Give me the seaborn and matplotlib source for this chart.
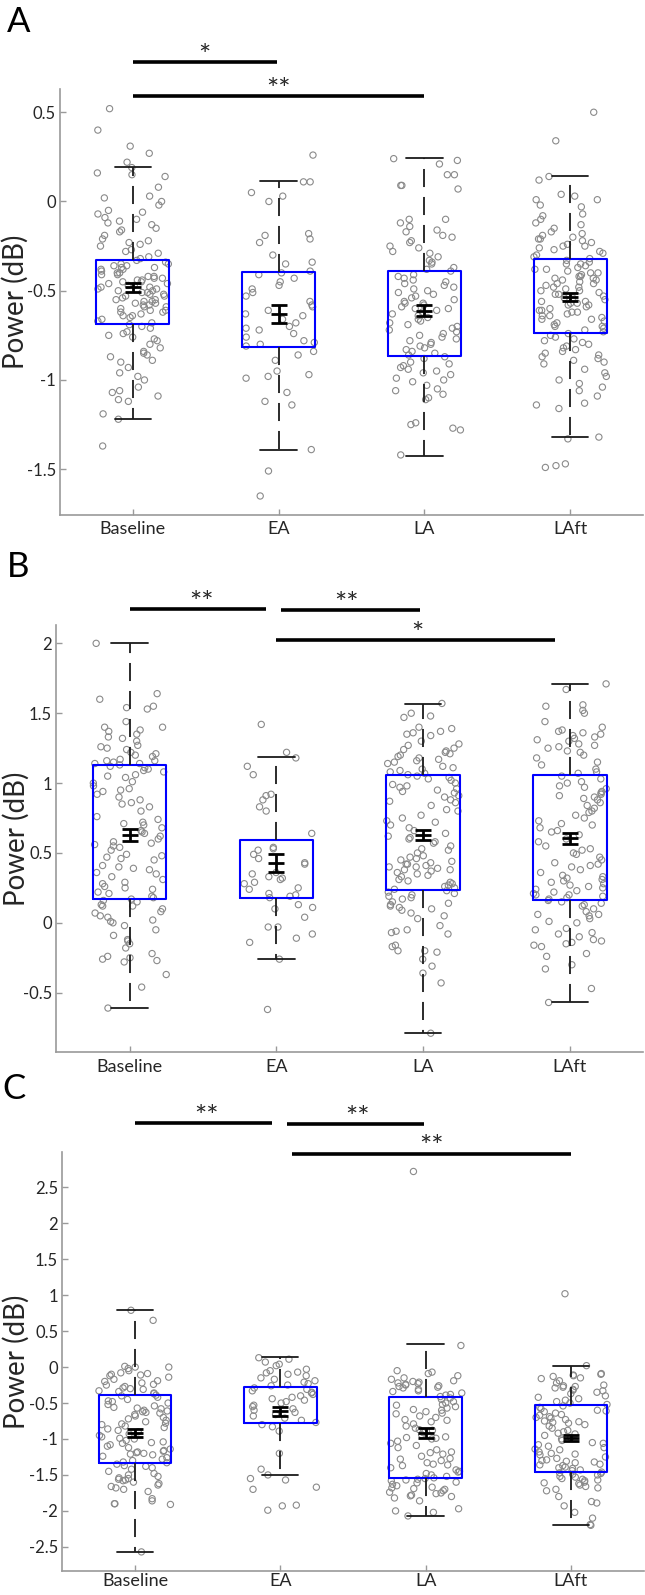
import numpy as np
import pandas as pd
import seaborn as sns
import matplotlib.pyplot as plt

conditions = ["Baseline", "EA", "LA", "LAft"]

# ---------------- panel A : individual values (dB) ----------------
A_baseline = [
    0.52, 0.40, 0.31, 0.27, 0.22, 0.19, 0.16, 0.15, 0.14, 0.08,
    0.03, 0.02, 0.00, -0.02, -0.05, -0.06, -0.07, -0.09, -0.11, -0.12,
    -0.13, -0.15, -0.16, -0.17, -0.19, -0.21, -0.22, -0.24, -0.25, -0.27,
    -0.28, -0.29, -0.31, -0.32, -0.33, -0.34, -0.35, -0.35, -0.36, -0.37,
    -0.38, -0.38, -0.39, -0.40, -0.41, -0.41, -0.42, -0.43, -0.43, -0.44,
    -0.45, -0.45, -0.46, -0.47, -0.48, -0.48, -0.49, -0.50, -0.50, -0.51,
    -0.52, -0.53, -0.53, -0.54, -0.55, -0.56, -0.56, -0.57, -0.58, -0.59,
    -0.60, -0.61, -0.61, -0.62, -0.63, -0.64, -0.65, -0.66, -0.67, -0.68,
    -0.69, -0.70, -0.71, -0.73, -0.74, -0.75, -0.77, -0.78, -0.80, -0.82,
    -0.84, -0.86, -0.87, -0.89, -0.90, -0.93, -0.96, -0.98, -1.00, -1.04,
    -1.06, -1.07, -1.09, -1.11, -1.12, -1.19, -1.22, -1.37,
    -0.37, -0.42, -0.46, -0.51, -0.55, -0.59, -0.44, -0.49, -0.57, -0.62,
    -0.36, -0.40, -0.47, -0.52, -0.58, -0.64, -0.76, -0.85, -0.23, -0.10,
]
A_EA = [
    0.26, 0.11, 0.11, 0.05, 0.03, 0.00, -0.18, -0.19, -0.21, -0.23,
    -0.30, -0.34, -0.35, -0.39, -0.40, -0.41, -0.43, -0.45, -0.47, -0.49,
    -0.51, -0.56, -0.58, -0.59, -0.61, -0.63, -0.66, -0.68, -0.70, -0.71,
    -0.72, -0.74, -0.76, -0.78, -0.79, -0.80, -0.81, -0.84, -0.86, -0.89,
    -0.95, -0.97, -0.98, -0.99, -1.07, -1.12, -1.14, -1.39, -1.51, -1.65,
    -0.53, -0.64,
]
A_LA = [
    0.24, 0.23, 0.21, 0.15, 0.15, 0.09, 0.09, 0.07, -0.10, -0.10,
    -0.12, -0.14, -0.16, -0.17, -0.19, -0.20, -0.22, -0.23, -0.25, -0.26,
    -0.28, -0.29, -0.31, -0.33, -0.34, -0.35, -0.37, -0.38,
    -0.39, -0.41, -0.42, -0.43, -0.45, -0.46, -0.47, -0.48, -0.50, -0.51,
    -0.52, -0.53, -0.55, -0.56, -0.57, -0.57, -0.58, -0.59, -0.60, -0.61,
    -0.62, -0.63, -0.64, -0.66, -0.67, -0.68, -0.69, -0.70, -0.71, -0.73,
    -0.74, -0.75, -0.77, -0.78, -0.79, -0.80, -0.81, -0.83, -0.84, -0.85,
    -0.86, -0.44, -0.49, -0.54, -0.60, -0.65, -0.72, -0.76, -0.82,
    -0.87, -0.88, -0.90, -0.91, -0.93, -0.94, -0.96, -0.97, -0.99, -1.01,
    -1.03, -1.05, -1.06, -1.08, -1.10, -1.11, -1.24, -1.25, -1.27, -1.28,
    -1.42, -0.92, -0.95, -1.00,
]
A_LAft = [
    0.50, 0.34, 0.14, 0.12, 0.04, 0.03, 0.01, 0.01, -0.02, -0.03,
    -0.07, -0.08, -0.10, -0.12, -0.13, -0.15, -0.17, -0.18, -0.19, -0.20,
    -0.21, -0.21, -0.22, -0.23, -0.24, -0.25, -0.25, -0.26, -0.27, -0.28,
    -0.29, -0.30, -0.31, -0.32,
    -0.33, -0.34, -0.35, -0.35, -0.36, -0.37, -0.38, -0.39, -0.40, -0.40,
    -0.41, -0.42, -0.43, -0.43, -0.44, -0.45, -0.46, -0.46, -0.47, -0.48,
    -0.49, -0.50, -0.50, -0.51, -0.52, -0.53, -0.54, -0.54, -0.55, -0.56,
    -0.57, -0.58, -0.58, -0.59, -0.60, -0.61, -0.62, -0.62, -0.63, -0.64,
    -0.65, -0.66, -0.67, -0.68, -0.69, -0.70, -0.71, -0.72, -0.73, -0.38,
    -0.44, -0.48, -0.52, -0.57, -0.61, -0.66, -0.42, -0.56, -0.64, -0.70,
    -0.74, -0.75, -0.76, -0.77, -0.78, -0.80, -0.81, -0.82, -0.83, -0.85,
    -0.86, -0.87, -0.89, -0.90, -0.91, -0.94, -0.96, -0.98, -1.00, -1.02,
    -1.04, -1.06, -1.09, -1.13, -1.14, -1.16, -1.32, -1.33, -1.47, -1.48,
    -1.49, -0.79, -0.84, -0.88,
]

# ---------------- panel B ----------------
B_baseline = [
    2.00, 1.64, 1.60, 1.55, 1.54, 1.53, 1.44, 1.40, 1.40, 1.38,
    1.37, 1.35, 1.33, 1.32, 1.30, 1.27, 1.26, 1.25, 1.24, 1.22,
    1.21, 1.20, 1.19, 1.17, 1.16, 1.15, 1.14, 1.13, 1.14, 1.16,
    1.12, 1.11, 1.10, 1.09, 1.08, 1.06, 1.04, 1.01, 1.00, 0.98,
    0.96, 0.95, 0.94, 0.90, 0.88, 0.86, 0.85, 0.83, 0.76, 0.74,
    0.72, 0.71, 0.70, 0.68, 0.66, 0.65, 0.64, 0.62, 0.60, 0.58,
    0.56, 0.55, 0.54, 0.52, 0.49, 0.48, 0.47, 0.46, 0.45, 0.41,
    0.40, 0.39, 0.38, 0.35, 0.33, 0.31, 0.29, 0.28, 0.26, 0.25,
    0.24, 0.22, 0.21, 0.19, 0.18, 1.05, 0.92, 0.80, 0.57, 0.36,
    0.17, 0.16, 0.15, 0.13, 0.12, 0.12, 0.10, 0.07, 0.05, 0.04,
    0.02, 0.01, 0.00, -0.02, -0.05, -0.09, -0.12, -0.13, -0.15, -0.18,
    -0.22, -0.24, -0.25, -0.26, -0.27, -0.28, -0.37, -0.46, -0.61, 0.08,
]
B_EA = [
    1.42, 1.22, 1.18, 1.12, 1.06, 0.92, 0.91, 0.88, 0.83, 0.80,
    0.64, 0.54, 0.53, 0.52, 0.49, 0.46, 0.43, 0.42, 0.35, 0.33,
    0.32, 0.31, 0.29, 0.28, 0.25, 0.24, 0.21, 0.20, 0.19, 0.18,
    0.13, 0.11, 0.10, 0.04, -0.03, -0.03, -0.08, -0.11, -0.14, -0.26,
    -0.62, 0.36,
]
B_LA = [
    1.57, 1.50, 1.48, 1.47, 1.40, 1.39, 1.37, 1.36, 1.35, 1.34,
    1.30, 1.28, 1.27, 1.25, 1.24, 1.22, 1.21, 1.20, 1.18, 1.17,
    1.16, 1.15, 1.12, 1.10, 1.09, 1.08, 1.07, 1.06, 1.23, 1.19,
    1.14, 1.11,
    1.05, 1.04, 1.03, 1.02, 1.00, 0.99, 0.98, 0.97, 0.96, 0.95,
    0.93, 0.91, 0.90, 0.88, 0.86, 0.84, 0.81, 0.80, 0.77, 0.75,
    0.72, 0.70, 0.68, 0.66, 0.64, 0.62, 0.61, 0.60, 0.58, 0.55,
    0.53, 0.52, 0.50, 0.48, 0.47, 0.45, 0.44, 0.43, 0.42, 0.41,
    0.40, 0.40, 0.39, 0.38, 0.37, 0.36, 0.35, 0.33, 0.31, 0.30,
    0.28, 0.27, 0.26, 0.25, 0.24, 0.94, 0.87, 0.73, 0.57, 0.46,
    0.34, 0.29, 0.42, 0.38,
    0.23, 0.22, 0.21, 0.20, 0.19, 0.17, 0.15, 0.14, 0.13, 0.12,
    0.10, 0.09, 0.07, 0.05, 0.03, -0.02, -0.05, -0.06, -0.07, -0.08,
    -0.16, -0.17, -0.20, -0.20, -0.21, -0.26, -0.31, -0.36, -0.43, -0.79,
    0.11, 0.18,
]
B_LAft = [
    1.71, 1.67, 1.56, 1.55, 1.52, 1.50, 1.44, 1.40, 1.38, 1.37,
    1.36, 1.35, 1.33, 1.32, 1.31, 1.30, 1.28, 1.27, 1.25, 1.23,
    1.22, 1.20, 1.18, 1.15, 1.13, 1.10, 1.08, 1.07, 1.34, 1.26,
    1.05, 1.03, 1.01, 1.00, 0.98, 0.96, 0.94, 0.93, 0.92, 0.91,
    0.90, 0.89, 0.86, 0.84, 0.82, 0.80, 0.77, 0.75, 0.73, 0.71,
    0.70, 0.68, 0.66, 0.63, 0.60, 0.58, 0.55, 0.52, 0.50, 0.49,
    0.47, 0.45, 0.43, 0.42, 0.40, 0.38, 0.36, 0.34, 0.33, 0.31,
    0.30, 0.29, 0.28, 0.27, 0.25, 0.24, 0.23, 0.22, 0.21, 0.20,
    0.19, 0.18, 0.17, 0.97, 0.88, 0.79, 0.65, 0.53, 0.41, 0.32,
    0.26, 0.20,
    0.16, 0.15, 0.14, 0.13, 0.12, 0.10, 0.08, 0.06, 0.06, 0.05,
    0.01, 0.00, -0.04, -0.05, -0.07, -0.08, -0.10, -0.12, -0.13, -0.14,
    -0.15, -0.16, -0.17, -0.22, -0.24, -0.30, -0.33, -0.47, -0.57, 0.03,
]

# ---------------- panel C ----------------
C_baseline = [
    0.79, 0.65, 0.01, 0.00, 0.00, -0.02, -0.05, -0.08, -0.09, -0.10,
    -0.12, -0.14, -0.17, -0.19, -0.20, -0.22, -0.25, -0.27, -0.29, -0.31,
    -0.33, -0.34, -0.36, -0.37, -0.39, -0.11, -0.24, -0.30,
    -0.40, -0.42, -0.45, -0.47, -0.50, -0.52, -0.54, -0.56, -0.58, -0.60,
    -0.61, -0.62, -0.64, -0.66, -0.70, -0.72, -0.74, -0.76, -0.78, -0.80,
    -0.82, -0.84, -0.88, -0.90, -0.93, -0.95, -0.97, -1.00, -1.02, -1.04,
    -1.06, -1.08, -1.10, -1.12, -1.14, -1.16, -1.18, -1.19, -1.20, -1.22,
    -1.24, -1.26, -1.28, -1.30, -1.32, -0.57, -0.68, -0.79, -0.86, -1.05,
    -1.17, -0.63, -0.99, -1.21, -0.48,
    -1.33, -1.35, -1.37, -1.38, -1.40, -1.42, -1.45, -1.50, -1.52, -1.54,
    -1.55, -1.56, -1.57, -1.58, -1.60, -1.62, -1.64, -1.66, -1.68, -1.70,
    -1.73, -1.83, -1.86, -1.90, -1.90, -1.91, -2.57, -1.48,
]
C_EA = [
    0.13, 0.11, 0.07, 0.04, 0.02, -0.03, -0.05, -0.07, -0.08, -0.10,
    -0.12, -0.15, -0.17, -0.19, -0.21, -0.23, -0.25, -0.26, -0.29, -0.31,
    -0.33, -0.35, -0.36, -0.38, -0.40, -0.42, -0.44, -0.46, -0.48, -0.50,
    -0.53, -0.55, -0.58, -0.60, -0.63, -0.66, -0.68, -0.71, -0.74, -0.77,
    -0.80, -0.83, -0.89, -1.20, -1.42, -1.50, -1.55, -1.57, -1.67, -1.70,
    -1.92, -1.93, -1.99,
]
C_LA = [
    2.72, 0.30, -0.05, -0.07, -0.09, -0.12, -0.15, -0.17, -0.19, -0.20,
    -0.21, -0.22, -0.24, -0.25, -0.26, -0.27, -0.29, -0.31, -0.33, -0.34,
    -0.36, -0.38, -0.39, -0.41, -0.23, -0.28,
    -0.43, -0.45, -0.48, -0.50, -0.52, -0.55, -0.57, -0.59, -0.62, -0.65,
    -0.68, -0.70, -0.73, -0.76, -0.79, -0.82, -0.85, -0.88, -0.91, -0.94,
    -0.97, -0.99, -1.00, -1.03, -1.06, -1.09, -1.12, -1.15, -1.18, -1.21,
    -1.24, -1.27, -1.30, -1.33, -1.35, -1.37, -1.40, -1.43, -1.45, -1.48,
    -1.50, -1.52, -0.53, -0.60, -0.74, -0.98, -1.19, -1.36, -1.46, -0.87,
    -1.28, -0.64,
    -1.54, -1.55, -1.56, -1.58, -1.60, -1.61, -1.63, -1.65, -1.67, -1.68,
    -1.70, -1.72, -1.74, -1.76, -1.78, -1.79, -1.80, -1.82, -1.86, -1.97,
    -2.00, -2.02, -2.07, -1.57, -1.69, -1.75,
]
C_LAft = [
    1.02, 0.02, -0.09, -0.10, -0.12, -0.13, -0.15, -0.16, -0.19, -0.22,
    -0.25, -0.27, -0.28, -0.29, -0.31, -0.32, -0.35, -0.37, -0.40, -0.42,
    -0.44, -0.46, -0.48, -0.50, -0.52, -0.26, -0.33, -0.11,
    -0.54, -0.56, -0.58, -0.60, -0.62, -0.64, -0.66, -0.67, -0.69, -0.71,
    -0.73, -0.75, -0.76, -0.78, -0.80, -0.82, -0.85, -0.88, -0.90, -0.92,
    -0.95, -0.98, -1.00, -1.02, -1.05, -1.08, -1.10, -1.12, -1.15, -1.18,
    -1.20, -1.22, -1.25, -1.27, -1.29, -1.30, -1.32, -1.33, -1.35, -1.37,
    -1.39, -1.41, -1.43, -1.44, -0.77, -0.93, -1.06, -1.21, -1.31, -1.36,
    -0.61, -0.70, -1.14, -1.40,
    -1.46, -1.47, -1.48, -1.50, -1.52, -1.53, -1.55, -1.57, -1.58, -1.60,
    -1.62, -1.64, -1.66, -1.68, -1.70, -1.72, -1.80, -1.87, -1.89, -1.93,
    -2.02, -2.10, -2.19, -2.20, -1.49, -1.56, -1.61,
]

# ---------------- box / mean summaries ----------------
A_q1 = [-0.687, -0.816, -0.863, -0.736]
A_q3 = [-0.330, -0.393, -0.387, -0.324]
A_wlo = [-1.217, -1.393, -1.424, -1.321]
A_whi = [0.193, 0.112, 0.244, 0.145]
A_mean = [-0.480, -0.631, -0.611, -0.535]
A_sem = [0.025, 0.052, 0.032, 0.023]

B_q1 = [0.167, 0.177, 0.233, 0.160]
B_q3 = [1.129, 0.595, 1.055, 1.055]
B_wlo = [-0.607, -0.256, -0.788, -0.570]
B_whi = [2.000, 1.185, 1.567, 1.712]
B_mean = [0.628, 0.426, 0.629, 0.604]
B_sem = [0.042, 0.063, 0.036, 0.038]

C_q1 = [-1.329, -0.779, -1.540, -1.455]
C_q3 = [-0.394, -0.277, -0.418, -0.531]
C_wlo = [-2.573, -1.502, -2.066, -2.197]
C_whi = [0.789, 0.136, 0.315, 0.019]
C_mean = [-0.918, -0.615, -0.915, -0.986]
C_sem = [0.059, 0.061, 0.070, 0.047]

# significance bars: (x start, x end, y, stars, star x)
A_sig = [(0, 0.99, 0.782, "*", 0.49), (0, 2.0, 0.591, "**", 1.0)]
B_sig = [(0, 0.93, 2.247, "**", 0.49), (1.03, 1.98, 2.240, "**", 1.48),
         (1.0, 2.90, 2.024, "*", 1.96)]
C_sig = [(0, 0.94, 3.39, "**", 0.49), (1.045, 1.99, 3.38, "**", 1.53),
         (1.08, 3.0, 2.97, "**", 2.04)]

A_yticks = [-1.5, -1, -0.5, 0, 0.5]
B_yticks = [-0.5, 0, 0.5, 1, 1.5, 2]
C_yticks = [-2.5, -2, -1.5, -1, -0.5, 0, 0.5, 1, 1.5, 2, 2.5]

sns.set_theme(style="white")
plt.rcParams['font.family'] = ['Lato', 'DejaVu Sans']
plt.rcParams['axes.unicode_minus'] = False

np.random.seed(11)

fig = plt.figure(figsize=(6.45, 15.95), dpi=100)


def draw_panel(rect, groups, q1, q3, wlo, whi, means, sems, sig, yticks, ylim,
               label_x, xpad=5):
    ax = fig.add_axes(rect)
    rows = []
    for cond, vals in zip(conditions, groups):
        rows += [(cond, v) for v in vals]
    df = pd.DataFrame(rows, columns=["condition", "power"])

    sns.stripplot(data=df, x="condition", y="power", order=conditions, ax=ax,
                  jitter=0.25, size=4.5, facecolor="none", edgecolor="#8a8a8a",
                  linewidth=0.8, zorder=1)

    stats = []
    for i in range(4):
        stats.append(dict(med=means[i], q1=q1[i], q3=q3[i],
                          whislo=wlo[i], whishi=whi[i]))
    ax.bxp(stats, positions=range(4), widths=0.5, capwidths=0.25,
           showfliers=False, manage_ticks=False,
           boxprops=dict(color="blue", linewidth=1.5),
           whiskerprops=dict(color="#1a1a1a", linewidth=1.3, linestyle=(0, (10, 5.5))),
           capprops=dict(color="#1a1a1a", linewidth=1.3),
           medianprops=dict(visible=False))

    # mean +- sem
    xs = np.arange(4)
    ax.errorbar(xs, means, yerr=sems, fmt="none", ecolor="black",
                elinewidth=2, capsize=5.5, capthick=2, zorder=4)
    ax.hlines(means, xs - 0.055, xs + 0.055, color="black", lw=2, zorder=4)

    # significance
    for x0, x1, y, stars, sx in sig:
        ax.plot([x0, x1], [y, y], color="black", lw=2.6, clip_on=False,
                solid_capstyle="butt")
        ax.annotate(stars, (sx, y), xytext=(0, -2), textcoords="offset points",
                    ha="center", va="baseline", fontsize=21, annotation_clip=False)

    ax.set_xlim(-0.5, 3.5)
    ax.set_ylim(*ylim)
    ax.set_yticks(yticks)
    ax.set_yticklabels([f"{t:g}" for t in yticks])
    ax.set_xlabel("")
    ax.set_ylabel("Power (dB)", fontsize=20, color="#262626")
    ax.yaxis.set_label_coords(label_x, 0.5)
    ax.tick_params(axis="y", direction="in", length=4, width=1, color="#9a9a9a",
                   labelsize=12, labelcolor="#262626", pad=3, left=True)
    ax.tick_params(axis="x", direction="in", length=4, width=1, color="#9a9a9a",
                   labelsize=13, labelcolor="#262626", pad=xpad, bottom=True)
    for s in ["top", "right"]:
        ax.spines[s].set_visible(False)
    for s in ["left", "bottom"]:
        ax.spines[s].set_color("#9a9a9a")
        ax.spines[s].set_linewidth(1.2)
    return ax


draw_panel([0.093, 0.6774, 0.904, 0.2670],
           [A_baseline, A_EA, A_LA, A_LAft], A_q1, A_q3, A_wlo, A_whi,
           A_mean, A_sem, A_sig, A_yticks, (-1.754, 0.632), -0.053)
draw_panel([0.0873, 0.3403, 0.910, 0.2680],
           [B_baseline, B_EA, B_LA, B_LAft], B_q1, B_q3, B_wlo, B_whi,
           B_mean, B_sem, B_sig, B_yticks, (-0.926, 2.133), -0.046)
draw_panel([0.0967, 0.0153, 0.901, 0.2624],
           [C_baseline, C_EA, C_LA, C_LAft], C_q1, C_q3, C_wlo, C_whi,
           C_mean, C_sem, C_sig, C_yticks, (-2.83, 2.99), -0.057, xpad=2)

for letter, x, ybase in [("A", 7, 32), ("B", 7, 577), ("C", 2, 1099)]:
    fig.text(x / 645, 1 - ybase / 1595, letter, fontsize=25, va="baseline",
             ha="left", color="black")

fig.savefig("out.png", dpi=100)
